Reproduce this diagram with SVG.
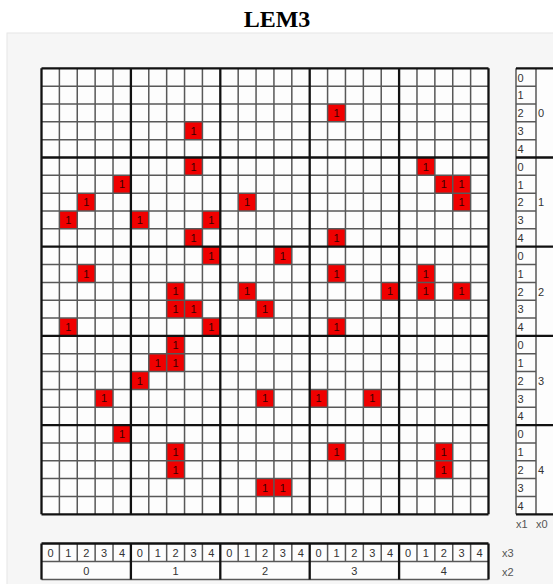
<svg xmlns="http://www.w3.org/2000/svg" width="553" height="584" viewBox="0 0 553 584">
<style>
.thin{stroke:#585858;stroke-width:1.5;fill:none}
.thick{stroke:#111;stroke-width:2.3;fill:none}
.cell{fill:#f00000}
.one{font-family:"Liberation Sans",Tahoma,sans-serif;font-size:11px;fill:#3a0000;text-anchor:middle}
.lbl{font-family:"Liberation Sans",Tahoma,sans-serif;font-size:11px;fill:#333}
.mid{text-anchor:middle}
.axis{font-family:"Liberation Sans",Tahoma,sans-serif;font-size:11px;fill:#555}
</style>
<rect width="553" height="584" fill="#ffffff"/>
<rect x="7" y="33" width="547" height="552" fill="#f6f6f6" stroke="#e6e6e6"/>
<text x="277" y="27" font-family="'Liberation Serif','Times New Roman',serif" font-weight="bold" font-size="24" text-anchor="middle" fill="#000">LEM3</text>

<g id="grid">
<rect x="41.5" y="68.3" width="447" height="446" fill="#fdfdfd"/>
<g id="cells">
<rect class="cell" x="327.58" y="103.98" width="17.88" height="17.84"/><text class="one" x="336.52" y="117">1</text>
<rect class="cell" x="184.54" y="121.82" width="17.88" height="17.84"/><text class="one" x="193.48" y="134.8">1</text>
<rect class="cell" x="184.54" y="157.5" width="17.88" height="17.84"/><text class="one" x="193.48" y="170.5">1</text>
<rect class="cell" x="416.98" y="157.5" width="17.88" height="17.84"/><text class="one" x="425.92" y="170.5">1</text>
<rect class="cell" x="113.02" y="175.34" width="17.88" height="17.84"/><text class="one" x="121.96" y="188.3">1</text>
<rect class="cell" x="434.86" y="175.34" width="17.88" height="17.84"/><text class="one" x="443.8" y="188.3">1</text>
<rect class="cell" x="452.74" y="175.34" width="17.88" height="17.84"/><text class="one" x="461.68" y="188.3">1</text>
<rect class="cell" x="77.26" y="193.18" width="17.88" height="17.84"/><text class="one" x="86.2" y="206.2">1</text>
<rect class="cell" x="238.18" y="193.18" width="17.88" height="17.84"/><text class="one" x="247.12" y="206.2">1</text>
<rect class="cell" x="452.74" y="193.18" width="17.88" height="17.84"/><text class="one" x="461.68" y="206.2">1</text>
<rect class="cell" x="59.38" y="211.02" width="17.88" height="17.84"/><text class="one" x="68.32" y="224">1</text>
<rect class="cell" x="130.9" y="211.02" width="17.88" height="17.84"/><text class="one" x="139.84" y="224">1</text>
<rect class="cell" x="202.42" y="211.02" width="17.88" height="17.84"/><text class="one" x="211.36" y="224">1</text>
<rect class="cell" x="184.54" y="228.86" width="17.88" height="17.84"/><text class="one" x="193.48" y="241.9">1</text>
<rect class="cell" x="327.58" y="228.86" width="17.88" height="17.84"/><text class="one" x="336.52" y="241.9">1</text>
<rect class="cell" x="202.42" y="246.7" width="17.88" height="17.84"/><text class="one" x="211.36" y="259.7">1</text>
<rect class="cell" x="273.94" y="246.7" width="17.88" height="17.84"/><text class="one" x="282.88" y="259.7">1</text>
<rect class="cell" x="77.26" y="264.54" width="17.88" height="17.84"/><text class="one" x="86.2" y="277.5">1</text>
<rect class="cell" x="327.58" y="264.54" width="17.88" height="17.84"/><text class="one" x="336.52" y="277.5">1</text>
<rect class="cell" x="416.98" y="264.54" width="17.88" height="17.84"/><text class="one" x="425.92" y="277.5">1</text>
<rect class="cell" x="166.66" y="282.38" width="17.88" height="17.84"/><text class="one" x="175.6" y="295.4">1</text>
<rect class="cell" x="238.18" y="282.38" width="17.88" height="17.84"/><text class="one" x="247.12" y="295.4">1</text>
<rect class="cell" x="381.22" y="282.38" width="17.88" height="17.84"/><text class="one" x="390.16" y="295.4">1</text>
<rect class="cell" x="416.98" y="282.38" width="17.88" height="17.84"/><text class="one" x="425.92" y="295.4">1</text>
<rect class="cell" x="452.74" y="282.38" width="17.88" height="17.84"/><text class="one" x="461.68" y="295.4">1</text>
<rect class="cell" x="166.66" y="300.22" width="17.88" height="17.84"/><text class="one" x="175.6" y="313.2">1</text>
<rect class="cell" x="184.54" y="300.22" width="17.88" height="17.84"/><text class="one" x="193.48" y="313.2">1</text>
<rect class="cell" x="256.06" y="300.22" width="17.88" height="17.84"/><text class="one" x="265" y="313.2">1</text>
<rect class="cell" x="59.38" y="318.06" width="17.88" height="17.84"/><text class="one" x="68.32" y="331.1">1</text>
<rect class="cell" x="202.42" y="318.06" width="17.88" height="17.84"/><text class="one" x="211.36" y="331.1">1</text>
<rect class="cell" x="327.58" y="318.06" width="17.88" height="17.84"/><text class="one" x="336.52" y="331.1">1</text>
<rect class="cell" x="166.66" y="335.9" width="17.88" height="17.84"/><text class="one" x="175.6" y="348.9">1</text>
<rect class="cell" x="148.78" y="353.74" width="17.88" height="17.84"/><text class="one" x="157.72" y="366.7">1</text>
<rect class="cell" x="166.66" y="353.74" width="17.88" height="17.84"/><text class="one" x="175.6" y="366.7">1</text>
<rect class="cell" x="130.9" y="371.58" width="17.88" height="17.84"/><text class="one" x="139.84" y="384.6">1</text>
<rect class="cell" x="95.14" y="389.42" width="17.88" height="17.84"/><text class="one" x="104.08" y="402.4">1</text>
<rect class="cell" x="256.06" y="389.42" width="17.88" height="17.84"/><text class="one" x="265" y="402.4">1</text>
<rect class="cell" x="309.7" y="389.42" width="17.88" height="17.84"/><text class="one" x="318.64" y="402.4">1</text>
<rect class="cell" x="363.34" y="389.42" width="17.88" height="17.84"/><text class="one" x="372.28" y="402.4">1</text>
<rect class="cell" x="113.02" y="425.1" width="17.88" height="17.84"/><text class="one" x="121.96" y="438.1">1</text>
<rect class="cell" x="166.66" y="442.94" width="17.88" height="17.84"/><text class="one" x="175.6" y="455.9">1</text>
<rect class="cell" x="327.58" y="442.94" width="17.88" height="17.84"/><text class="one" x="336.52" y="455.9">1</text>
<rect class="cell" x="434.86" y="442.94" width="17.88" height="17.84"/><text class="one" x="443.8" y="455.9">1</text>
<rect class="cell" x="166.66" y="460.78" width="17.88" height="17.84"/><text class="one" x="175.6" y="473.8">1</text>
<rect class="cell" x="434.86" y="460.78" width="17.88" height="17.84"/><text class="one" x="443.8" y="473.8">1</text>
<rect class="cell" x="256.06" y="478.62" width="17.88" height="17.84"/><text class="one" x="265" y="491.6">1</text>
<rect class="cell" x="273.94" y="478.62" width="17.88" height="17.84"/><text class="one" x="282.88" y="491.6">1</text>
</g>
<path class="thin" d="M59.38 68.3V514.3M77.26 68.3V514.3M95.14 68.3V514.3M113.02 68.3V514.3M148.78 68.3V514.3M166.66 68.3V514.3M184.54 68.3V514.3M202.42 68.3V514.3M238.18 68.3V514.3M256.06 68.3V514.3M273.94 68.3V514.3M291.82 68.3V514.3M327.58 68.3V514.3M345.46 68.3V514.3M363.34 68.3V514.3M381.22 68.3V514.3M416.98 68.3V514.3M434.86 68.3V514.3M452.74 68.3V514.3M470.62 68.3V514.3"/>
<path class="thin" d="M41.5 86.14H488.5M41.5 103.98H488.5M41.5 121.82H488.5M41.5 139.66H488.5M41.5 175.34H488.5M41.5 193.18H488.5M41.5 211.02H488.5M41.5 228.86H488.5M41.5 264.54H488.5M41.5 282.38H488.5M41.5 300.22H488.5M41.5 318.06H488.5M41.5 353.74H488.5M41.5 371.58H488.5M41.5 389.42H488.5M41.5 407.26H488.5M41.5 442.94H488.5M41.5 460.78H488.5M41.5 478.62H488.5M41.5 496.46H488.5"/>
<path class="thick" d="M41.5 68.3V514.3M130.9 68.3V514.3M220.3 68.3V514.3M309.7 68.3V514.3M399.1 68.3V514.3M488.5 68.3V514.3M41.5 68.3H488.5M41.5 157.5H488.5M41.5 246.7H488.5M41.5 335.9H488.5M41.5 425.1H488.5M41.5 514.3H488.5"/>
</g>

<g id="row-labels">
<rect x="516" y="68.3" width="38" height="446" fill="#fdfdfd"/>
<path class="thin" d="M516 86.14H536M516 103.98H536M516 121.82H536M516 139.66H536M516 175.34H536M516 193.18H536M516 211.02H536M516 228.86H536M516 264.54H536M516 282.38H536M516 300.22H536M516 318.06H536M516 353.74H536M516 371.58H536M516 389.42H536M516 407.26H536M516 442.94H536M516 460.78H536M516 478.62H536M516 496.46H536M536 68.3V514.3M516 68.3V514.3"/>
<path class="thick" d="M516 68.3H553M516 157.5H553M516 246.7H553M516 335.9H553M516 425.1H553M516 514.3H553"/>
<g class="lbl">
<text x="517.5" y="81.5">0</text><text x="517.5" y="99.3">1</text><text x="517.5" y="117.2">2</text><text x="517.5" y="135">3</text><text x="517.5" y="152.8">4</text>
<text x="517.5" y="170.7">0</text><text x="517.5" y="188.5">1</text><text x="517.5" y="206.4">2</text><text x="517.5" y="224.2">3</text><text x="517.5" y="242">4</text>
<text x="517.5" y="259.9">0</text><text x="517.5" y="277.7">1</text><text x="517.5" y="295.6">2</text><text x="517.5" y="313.4">3</text><text x="517.5" y="331.2">4</text>
<text x="517.5" y="349.1">0</text><text x="517.5" y="366.9">1</text><text x="517.5" y="384.8">2</text><text x="517.5" y="402.6">3</text><text x="517.5" y="420.4">4</text>
<text x="517.5" y="438.3">0</text><text x="517.5" y="456.1">1</text><text x="517.5" y="474">2</text><text x="517.5" y="491.8">3</text><text x="517.5" y="509.6">4</text>
<text x="538" y="117.2">0</text><text x="538" y="206.4">1</text><text x="538" y="295.6">2</text><text x="538" y="384.8">3</text><text x="538" y="474">4</text>
</g>
</g>

<g id="col-labels">
<rect x="41.5" y="543.5" width="447" height="36" fill="#fdfdfd"/>
<path class="thin" d="M41.5 561.5H488.5M59.38 543.5V561.5M77.26 543.5V561.5M95.14 543.5V561.5M113.02 543.5V561.5M148.78 543.5V561.5M166.66 543.5V561.5M184.54 543.5V561.5M202.42 543.5V561.5M238.18 543.5V561.5M256.06 543.5V561.5M273.94 543.5V561.5M291.82 543.5V561.5M327.58 543.5V561.5M345.46 543.5V561.5M363.34 543.5V561.5M381.22 543.5V561.5M416.98 543.5V561.5M434.86 543.5V561.5M452.74 543.5V561.5M470.62 543.5V561.5M41.5 579.5H488.5"/>
<path class="thick" d="M41.5 543.5H488.5M41.5 543.5V579.5M130.9 543.5V579.5M220.3 543.5V579.5M309.7 543.5V579.5M399.1 543.5V579.5M488.5 543.5V579.5"/>
<g class="lbl mid">
<text x="50.44" y="556.5">0</text><text x="68.32" y="556.5">1</text><text x="86.2" y="556.5">2</text><text x="104.08" y="556.5">3</text><text x="121.96" y="556.5">4</text>
<text x="139.84" y="556.5">0</text><text x="157.72" y="556.5">1</text><text x="175.6" y="556.5">2</text><text x="193.48" y="556.5">3</text><text x="211.36" y="556.5">4</text>
<text x="229.24" y="556.5">0</text><text x="247.12" y="556.5">1</text><text x="265" y="556.5">2</text><text x="282.88" y="556.5">3</text><text x="300.76" y="556.5">4</text>
<text x="318.64" y="556.5">0</text><text x="336.52" y="556.5">1</text><text x="354.4" y="556.5">2</text><text x="372.28" y="556.5">3</text><text x="390.16" y="556.5">4</text>
<text x="408.04" y="556.5">0</text><text x="425.92" y="556.5">1</text><text x="443.8" y="556.5">2</text><text x="461.68" y="556.5">3</text><text x="479.56" y="556.5">4</text>
<text x="86.2" y="575">0</text><text x="175.6" y="575">1</text><text x="265" y="575">2</text><text x="354.4" y="575">3</text><text x="443.8" y="575">4</text>
</g>
</g>

<g id="axis-names" class="axis">
<text x="516" y="528">x1</text><text x="536" y="528">x0</text>
<text x="502" y="556.5">x3</text><text x="502" y="576">x2</text>
</g>
</svg>
